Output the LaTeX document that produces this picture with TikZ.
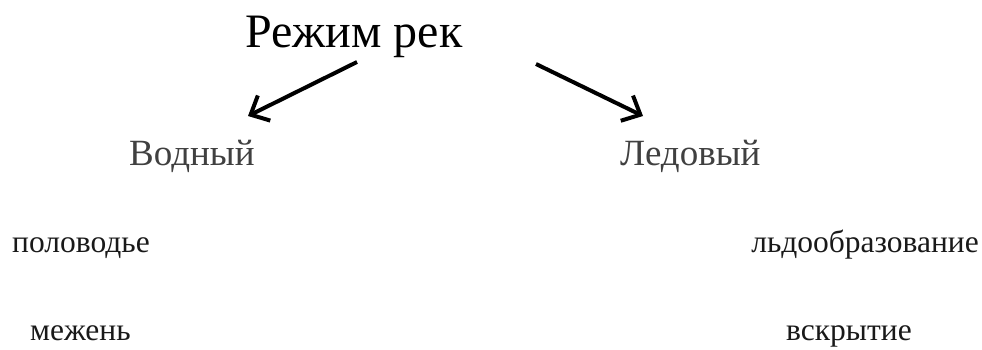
\documentclass[tikz,border=0pt]{standalone}
\usepackage{fontspec}
\setmainfont{Liberation Serif}
\usetikzlibrary{positioning}
\usetikzlibrary{arrows.meta}
\tikzset{title node/.style={inner sep=0pt,font=\fontsize{48}{52}\selectfont,text=black},
  kind node/.style={inner sep=0pt,font=\fontsize{37}{40}\selectfont,text=black!75},
  phase node/.style={inner sep=0pt,font=\fontsize{31.5}{34}\selectfont,text=black!90},
  big arrow/.style={line width=4pt,-{Straight Barb[length=15pt,width=28pt]}},}
\begin{document}
\begin{tikzpicture}[x=1pt,y=-1pt]
    \useasboundingbox (0,0) rectangle (982,349);
    \node[title node,anchor=base west] (title) at (245,47) {Режим рек};
    \node[kind node,anchor=base west] (water) at (129,165) {Водный};
    \node[kind node,anchor=base west] (ice) at (620,165) {Ледовый};
    \node[phase node,anchor=base west] (flood) at (12,252) {половодье};
    \node[phase node,anchor=base east] (freeze) at (979,252) {льдообразование};
    \node[phase node,anchor=base west] (low) at (30,340) {межень};
    \node[phase node,anchor=base west] (breakup) at (786,340) {вскрытие};

    \coordinate (w tail) at (357,62);
    \coordinate (w tip) at (248,116);
    \coordinate (i tail) at (536,64);
    \coordinate (i tip) at (643,116);
    \draw[big arrow] (w tail) -- (w tip);
    \draw[big arrow] (i tail) -- (i tip);
\end{tikzpicture}
\end{document}
